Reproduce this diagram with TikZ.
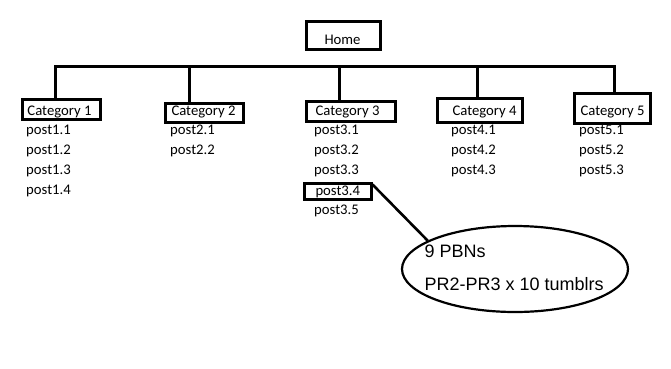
\documentclass[tikz,border=0pt]{standalone}
\usepackage{fontspec}
\setmainfont{Carlito}
\newfontfamily\arialfont{Liberation Sans}
\usetikzlibrary{shapes.geometric}
\newcommand{\padbox}[3]{\makebox[#1][l]{\hspace*{#2}#3}}
\begin{document}
\begin{tikzpicture}[x=1pt,y=-1pt,
  box/.style={draw, line width=3pt, inner sep=0pt,
    anchor=north west, font=\fontsize{14.7}{17}\selectfont},
  post/.style={anchor=base west, inner sep=0pt, font=\fontsize{14.7}{17}\selectfont},
  wire/.style={line width=3pt, line join=miter},
  bubble/.style={draw, ellipse, line width=2.2pt, inner sep=0pt,
    minimum width=226pt, minimum height=86pt},
  bubbletext/.style={anchor=base west, inner sep=0pt, font=\arialfont\fontsize{18}{22}\selectfont},
  callout/.style={line width=2.6pt}]
\useasboundingbox[fill=white] (0,0) rectangle (671,368);

% home
\node[box, text height=23pt, text depth=5pt] (home) at (304.5,19.5) {\padbox{74pt}{18.5pt}{Home}};

% categories
\node[box, text height=16.5pt, text depth=3.5pt] (c1) at (20.5,97.5) {\padbox{78pt}{5.5pt}{Category 1}};
\node[box, text height=12.5pt, text depth=6.5pt] (c2) at (163.5,101.5) {\padbox{78pt}{6.5pt}{Category 2}};
\node[box, text height=14.5pt, text depth=5.5pt] (c3) at (304.5,99.5) {\padbox{89pt}{9.5pt}{Category 3}};
\node[box, text height=17.5pt, text depth=6.5pt] (c4) at (435.5,96.5) {\padbox{85pt}{15.5pt}{Category 4}};
\node[box, text height=22.5pt, text depth=7.5pt] (c5) at (572.5,91.5) {\padbox{76pt}{6.5pt}{Category 5}};

% bar
\coordinate (b1) at (55,66);
\coordinate (b2) at (189,66);
\coordinate (b3) at (339,66);
\coordinate (b4) at (477,66);
\coordinate (b5) at (614,66);
\draw[wire] (b1 |- c1.north) -- (b1) -- (b5) -- ([yshift=-3.5pt]b5 |- c5.north);
\draw[wire] (b2) -- (b2 |- c2.north);
\draw[wire] (b3) -- (b3 |- c3.north);
\draw[wire] (b4) -- (b4 |- c4.north);

% posts
\node[post] (p11) at (26,134) {post1.1};
\node[post] (p12) at (26,154) {post1.2};
\node[post] (p13) at (26,174) {post1.3};
\node[post] (p14) at (26,194) {post1.4};

\node[post] (p21) at (170,134) {post2.1};
\node[post] (p22) at (170,154) {post2.2};

\node[post] (p31) at (314,134) {post3.1};
\node[post] (p32) at (314,154) {post3.2};
\node[post] (p33) at (314,174) {post3.3};
\node[box, text height=12.5pt, text depth=3.5pt] (p34) at (302.5,181.5) {\padbox{67pt}{11.5pt}{post3.4}};
\node[post] (p35) at (314,214) {post3.5};

\node[post] (p41) at (451,134) {post4.1};
\node[post] (p42) at (451,154) {post4.2};
\node[post] (p43) at (451,174) {post4.3};

\node[post] (p51) at (579,134) {post5.1};
\node[post] (p52) at (579,154) {post5.2};
\node[post] (p53) at (579,174) {post5.3};

% callout
\node[bubble] (ell) at (515,269) {};
\node[bubbletext] (t1) at (424.5,257.7) {9 PBNs};
\node[bubbletext] (t2) at (424.5,290.7) {PR2-PR3 x 10 tumblrs};
\draw[callout] ([yshift=-3pt]p34.north east) -- (ell.162);
\end{tikzpicture}
\end{document}
